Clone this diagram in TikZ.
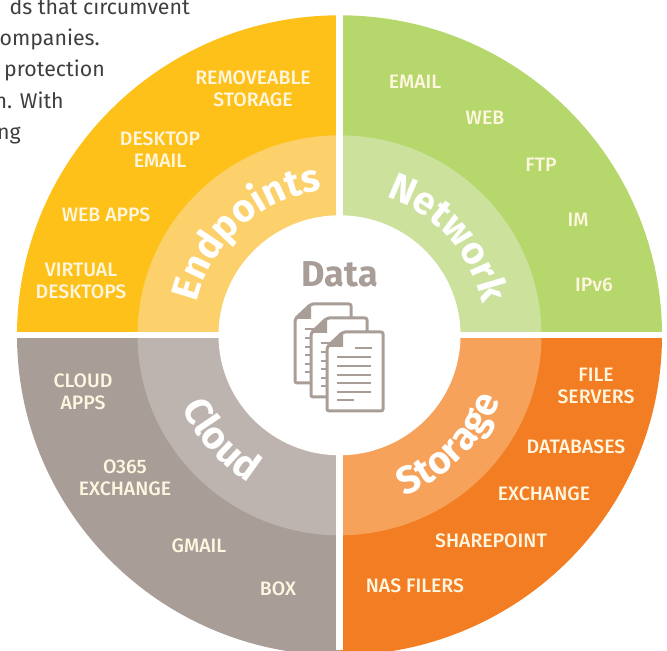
\documentclass[tikz,border=0pt]{standalone}
\usepackage{fontspec}
\setmainfont{Fira Sans}
\newfontfamily\boldf{Fira Sans}[UprightFont=* Bold]
\newfontfamily\medf{Fira Sans}[UprightFont=* Medium]
\usetikzlibrary{decorations.text}
\definecolor{yo}{HTML}{FDC11A}\definecolor{yi}{HTML}{FCD16B}
\definecolor{go}{HTML}{B5D76C}\definecolor{gi}{HTML}{CBE19C}
\definecolor{oo}{HTML}{F27D22}\definecolor{oi}{HTML}{F6A25B}
\definecolor{so}{HTML}{A89D97}\definecolor{si}{HTML}{BEB4AF}
\definecolor{bodytxt}{HTML}{3F3F41}
\definecolor{labtxt}{HTML}{FFF6E0}
\tikzset{
  lab/.style={text=labtxt,font=\medf\fontsize{14.6}{16.6}\selectfont,align=center,inner sep=0pt},
  body/.style={text=bodytxt,font=\fontsize{16}{18}\selectfont,inner sep=0pt,anchor=base east},
  docpage/.style={draw=so,fill=white,line width=2.25pt,rounded corners=1.5pt,line join=round},
  curved/.style={decorate,decoration={text along path,text align=center,text={|\fontsize{29}{29}\boldf\color{white}|#1}}}
}
\newcommand{\sector}[4]{%
  \fill[#3] (339.5,314.7) -- ++(#1:322.5 and 320) arc (#1:#2:322.5 and 320) -- cycle;
  \fill[#4] (339.5,314.7) -- ++(#1:202 and 200) arc (#1:#2:202 and 200) -- cycle;}
\begin{document}
\begin{tikzpicture}[x=0.75pt,y=0.75pt]
\useasboundingbox (0,0) rectangle (667,650);
\clip (0,0) rectangle (667,650);
\node[body] (t1) at (190,635) {ds that circumvent};
\node[body] (t2) at (100,604) {ompanies.};
\node[body] (t3) at (105,573) {protection};
\node[body] (t4) at (64,541) {n. With};
\node[body] (t5) at (21,510) {ng};
\sector{90}{180}{yo}{yi}
\sector{0}{90}{go}{gi}
\sector{-90}{0}{oo}{oi}
\sector{180}{270}{so}{si}
\fill[white] (336.2,0) rectangle (342.8,650);
\fill[white] (0,311.7) rectangle (667,317.7);
\fill[white] (339.5,314.7) ellipse (121 and 120);
\path[curved=Endpoints] (339.5,314.7) ++(200:146) arc (200:64:146);
\path[curved=Network] (339.5,314.7) ++(110:146) arc (110:-26:146);
\path[curved=Storage] (339.5,314.7) ++(-105:173) arc (-105:15:173);
\path[curved=Cloud] (339.5,314.7) ++(-198.5:173) arc (-198.5:-78.5:173);
\node[lab] (n1) at (253,561) {REMOVEABLE\\STORAGE};
\node[lab] (n2) at (160,500) {DESKTOP\\EMAIL};
\node[lab] (n3) at (106,435) {WEB APPS};
\node[lab] (n4) at (81,369) {VIRTUAL\\DESKTOPS};
\node[lab] (n5) at (415,568) {EMAIL};
\node[lab] (n6) at (485,532) {WEB};
\node[lab] (n7) at (541,485) {FTP};
\node[lab] (n8) at (578,430) {IM};
\node[lab] (n9) at (594,365) {IPv6};
\node[lab] (n10) at (596,264) {FILE\\SERVERS};
\node[lab] (n11) at (576,203) {DATABASES};
\node[lab] (n12) at (544,156) {EXCHANGE};
\node[lab] (n13) at (491,109) {SHAREPOINT};
\node[lab] (n14) at (415,64) {NAS FILERS};
\node[lab] (n15) at (83,258) {CLOUD\\APPS};
\node[lab] (n16) at (125,172) {O365\\EXCHANGE};
\node[lab] (n17) at (199,104) {GMAIL};
\node[lab] (n18) at (278,61) {BOX};
\node[text=so,font=\fontsize{27}{27}\boldf,inner sep=0pt] (data) at (339.8,376) {Data};
\foreach \dx in {0,16,32}{
  \begin{scope}[shift={(\dx,-\dx*7/8)}]
    \draw[docpage] (311,346) -- (351,346) -- (351,267) -- (295,267) -- (295,331) -- cycle;
    \fill[so] (311,346) -- (295,331) -- (311,331) -- cycle;
    \foreach \yy/\xa/\xb in {330/323/340,321/305/339,312/305/339,303/305/339,295/305/339,286/305/339,278/305/322} {\draw[so,line width=1.75pt] (\xa,\yy) -- (\xb,\yy);}
  \end{scope}}
\end{tikzpicture}
\end{document}
